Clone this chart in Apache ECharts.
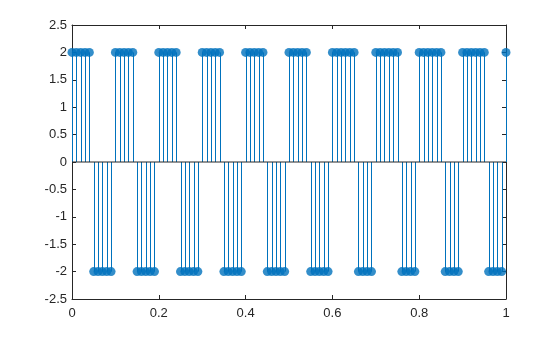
<!DOCTYPE html>
<html>
<head>
<meta charset="utf-8">
<script src="https://cdn.jsdelivr.net/npm/echarts@6/dist/echarts.min.js"></script>
<style>html,body{margin:0;padding:0;background:#fff}#c{width:560px;height:337px}</style>
</head>
<body>
<div id="c"></div>
<script>
const xValues = [0,0.01,0.02,0.03,0.04,0.05,0.06,0.07,0.08,0.09,
0.1,0.11,0.12,0.13,0.14,0.15,0.16,0.17,0.18,0.19,
0.2,0.21,0.22,0.23,0.24,0.25,0.26,0.27,0.28,0.29,
0.3,0.31,0.32,0.33,0.34,0.35,0.36,0.37,0.38,0.39,
0.4,0.41,0.42,0.43,0.44,0.45,0.46,0.47,0.48,0.49,
0.5,0.51,0.52,0.53,0.54,0.55,0.56,0.57,0.58,0.59,
0.6,0.61,0.62,0.63,0.64,0.65,0.66,0.67,0.68,0.69,
0.7,0.71,0.72,0.73,0.74,0.75,0.76,0.77,0.78,0.79,
0.8,0.81,0.82,0.83,0.84,0.85,0.86,0.87,0.88,0.89,
0.9,0.91,0.92,0.93,0.94,0.95,0.96,0.97,0.98,0.99,1];
const yValues = [2,2,2,2,2,-2,-2,-2,-2,-2,
2,2,2,2,2,-2,-2,-2,-2,-2,
2,2,2,2,2,-2,-2,-2,-2,-2,
2,2,2,2,2,-2,-2,-2,-2,-2,
2,2,2,2,2,-2,-2,-2,-2,-2,
2,2,2,2,2,-2,-2,-2,-2,-2,
2,2,2,2,2,2,-2,-2,-2,-2,
2,2,2,2,2,2,-2,-2,-2,-2,
2,2,2,2,2,2,-2,-2,-2,-2,
2,2,2,2,2,2,-2,-2,-2,-2,2];
const baseline = 0;
const xTicks = {min:0, max:1, interval:0.2};
const yTicks = {min:-2.5, max:2.5, interval:0.5};

const pts = xValues.map((x,i)=>[x,yValues[i]]);
const stemColor = '#0072BD';
const font = {fontFamily:'Liberation Sans, Arial, sans-serif', fontSize:13, color:'#262626'};
const axisLine = {show:true, onZero:false, lineStyle:{color:'#262626', width:1}};
const tick = {show:true, inside:true, length:4, lineStyle:{color:'#262626'}};

const chart = echarts.init(document.getElementById('c'), null, {renderer:'canvas'});
chart.setOption({
  animation:false,
  backgroundColor:'#fff',
  grid:{left:72, right:54, top:25, bottom:38, containLabel:false},
  xAxis:[
    {type:'value', min:xTicks.min, max:xTicks.max, interval:xTicks.interval, position:'bottom',
     axisLine, axisTick:tick, splitLine:{show:false},
     axisLabel:Object.assign({margin:8}, font)},
    {type:'value', min:xTicks.min, max:xTicks.max, interval:xTicks.interval, position:'top',
     axisLine, axisTick:tick, splitLine:{show:false}, axisLabel:{show:false}}
  ],
  yAxis:[
    {type:'value', min:yTicks.min, max:yTicks.max, interval:yTicks.interval, position:'left',
     axisLine, axisTick:tick, splitLine:{show:false},
     axisLabel:Object.assign({margin:5}, font)},
    {type:'value', min:yTicks.min, max:yTicks.max, interval:yTicks.interval, position:'right',
     axisLine, axisTick:tick, splitLine:{show:false}, axisLabel:{show:false}}
  ],
  series:[
    {type:'custom', xAxisIndex:0, yAxisIndex:0, data:pts, z:2,
     renderItem:function(params, api){
       const p0 = api.coord([api.value(0), baseline]);
       const p1 = api.coord([api.value(0), api.value(1)]);
       const x = Math.round(p0[0]) + 0.5;
       return {type:'line', shape:{x1:x,y1:p0[1],x2:x,y2:p1[1]},
               style:{stroke:stemColor, lineWidth:1}};
     }},
    {type:'line', data:[[xValues[0],baseline],[xValues[xValues.length-1],baseline]],
     symbol:'none', lineStyle:{color:'#262626', width:1}, z:3},
    {type:'scatter', data:pts, symbol:'circle', symbolSize:9,
     itemStyle:{color:stemColor}, z:4}
  ]
});
</script>
</body>
</html>
